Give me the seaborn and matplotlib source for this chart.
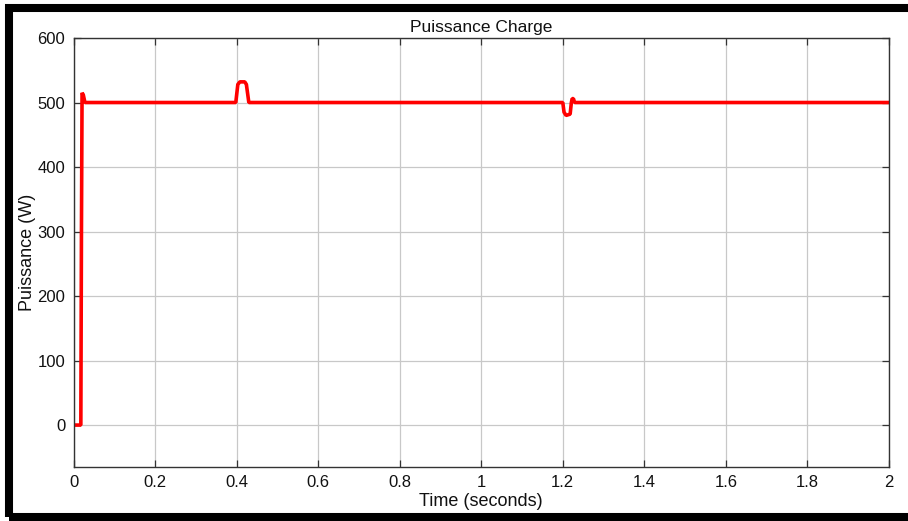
import matplotlib
matplotlib.use("Agg")
import matplotlib.pyplot as plt
import matplotlib.patches as mpatches
import numpy as np
import pandas as pd
import seaborn as sns

# Load power profile (time in seconds, power in watts)
time_s = [0.0, 0.018, 0.0195, 0.021, 0.024, 0.028, 0.035,
          0.398, 0.403, 0.408, 0.420, 0.424, 0.430, 0.436,
          1.200, 1.203, 1.208, 1.218, 1.221, 1.223, 1.226, 1.229, 1.235,
          2.0]
power_w = [0.0, 0.0, 300.0, 515.0, 512.0, 500.0, 500.0,
           500.0, 528.0, 532.0, 532.0, 528.0, 500.0, 500.0,
           500.0, 485.0, 480.0, 482.0, 500.0, 506.0, 506.0, 500.0, 500.0,
           500.0]

x_ticks = [0, 0.2, 0.4, 0.6, 0.8, 1.0, 1.2, 1.4, 1.6, 1.8, 2.0]
x_tick_labels = ["0", "0.2", "0.4", "0.6", "0.8", "1", "1.2", "1.4", "1.6", "1.8", "2"]
y_ticks = [0, 100, 200, 300, 400, 500, 600]

sns.set_theme(style="white")
plt.rcParams["font.family"] = ["Liberation Sans", "DejaVu Sans"]

df = pd.DataFrame({"t": time_s, "p": power_w})

fig = plt.figure(figsize=(9.08, 5.21), dpi=100)
ax = fig.add_axes([73.5 / 908, 54 / 521, (889 - 73.5) / 908, (467 - 38) / 521])

sns.lineplot(data=df, x="t", y="p", ax=ax, color="#ff0000", linewidth=2.6,
             estimator=None, sort=False, solid_joinstyle="bevel",
             solid_capstyle="butt")

ax.set_xlim(0, 2)
ax.set_ylim(-65, 600)
ax.set_xticks(x_ticks)
ax.set_xticklabels(x_tick_labels)
ax.set_yticks(y_ticks)
ax.grid(True, color="#c8c8c8", linewidth=0.9)
ax.set_axisbelow(True)
ax.tick_params(axis="both", direction="in", length=5, width=0.9, color="#333333",
               labelsize=12, labelcolor="#111111", top=True, right=True,
               bottom=True, left=True, pad=6)
for sp in ax.spines.values():
    sp.set_color("#333333")
    sp.set_linewidth(1.0)

ax.set_title("Puissance Charge", fontsize=12.5, color="#111111", pad=4)
ax.set_xlabel("Time (seconds)", fontsize=13, color="#111111", labelpad=2)
ax.set_ylabel("Puissance (W)", fontsize=13, color="#111111", labelpad=1)

# Thick black frame around the figure
frame = mpatches.Rectangle((8.5 / 908, 4 / 521), 1.1, 509 / 521,
                           transform=fig.transFigure, fill=False,
                           edgecolor="black", linewidth=5.8, clip_on=False,
                           joinstyle="miter")
fig.patches.append(frame)

fig.savefig("out.png", dpi=100, facecolor="white")
